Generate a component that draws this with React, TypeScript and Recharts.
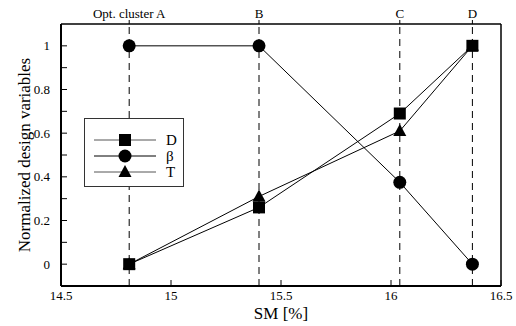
import React from "react";
import { LineChart, Line, XAxis, YAxis, ReferenceLine, Legend } from "recharts";

// optimal cluster positions on the SM axis
const clusterNames = ["Opt. cluster A", "B", "C", "D"];
const smValues = [14.81, 15.4, 16.04, 16.37];

// normalized design variables at each cluster
const dValues = [0, 0.26, 0.69, 1];
const betaValues = [1, 1, 0.375, 0];
const tValues = [0, 0.31, 0.61, 1];

const xTicks = [14.5, 15, 15.5, 16, 16.5];
const yTicks = [0, 0.1, 0.2, 0.3, 0.4, 0.5, 0.6, 0.7, 0.8, 0.9, 1];
const yLabelTicks = [0, 0.2, 0.4, 0.6, 0.8, 1];

const data = smValues.map((sm, i) => ({
   sm,
   D: dValues[i],
   beta: betaValues[i],
   T: tValues[i],
}));

const FONT = "Liberation Serif, Times New Roman, Times, DejaVu Serif, serif";
const Y_GAP = 11;
const X_GAP = 5;

const SquareDot = (props: any) => {
   const { cx, cy, index } = props;
   if (cx == null || cy == null) return <g key={index} />;
   return <rect key={index} x={cx - 6} y={cy - 6} width={12} height={12} fill="#000" />;
};

const CircleDot = (props: any) => {
   const { cx, cy, index } = props;
   if (cx == null || cy == null) return <g key={index} />;
   return <circle key={index} cx={cx} cy={cy} r={6.5} fill="#000" />;
};

const TriangleDot = (props: any) => {
   const { cx, cy, index } = props;
   if (cx == null || cy == null) return <g key={index} />;
   return (
      <polygon
         key={index}
         points={`${cx},${cy - 7} ${cx + 6.5},${cy + 5} ${cx - 6.5},${cy + 5}`}
         fill="#000"
      />
   );
};

const LeftTick = (props: any) => {
   const { x, y, payload } = props;
   const v = payload.value;
   const labelled = yLabelTicks.some((t) => Math.abs(t - v) < 1e-6);
   const ax = x + Y_GAP;
   return (
      <g>
         <line x1={ax} y1={y} x2={ax + 6} y2={y} stroke="#000" />
         {labelled && (
            <text x={x} y={y} dy="0.355em" textAnchor="end" style={{ fontSize: 13, fontFamily: FONT }} fill="#000">
               {String(Math.round(v * 10) / 10)}
            </text>
         )}
      </g>
   );
};

const BottomTick = (props: any) => {
   const { x, y, payload } = props;
   const ay = y - X_GAP;
   return (
      <g>
         <line x1={x} y1={ay} x2={x} y2={ay - 6} stroke="#000" />
         <text x={x} y={y} dy="0.71em" textAnchor="middle" style={{ fontSize: 13, fontFamily: FONT }} fill="#000">
            {String(payload.value)}
         </text>
      </g>
   );
};

const LegendBox = () => {
   const rows = [
      { name: "D", marker: "square", color: "#555" },
      { name: "β", marker: "circle", color: "#000" },
      { name: "T", marker: "triangle", color: "#555" },
   ];
   return (
      <div style={{ border: "1px solid #333", background: "#fff", width: 98, height: 67 }}>
         <svg width={98} height={67}>
            {rows.map((r, i) => {
               const cy = 21 + i * 16;
               const cx = 40;
               return (
                  <g key={r.name}>
                     <line x1={9} y1={cy} x2={71} y2={cy} stroke={r.color} />
                     {r.marker === "square" && <rect x={cx - 6} y={cy - 6} width={12} height={12} fill="#000" />}
                     {r.marker === "circle" && <circle cx={cx} cy={cy} r={6.5} fill="#000" />}
                     {r.marker === "triangle" && (
                        <polygon points={`${cx},${cy - 7} ${cx + 6.5},${cy + 5} ${cx - 6.5},${cy + 5}`} fill="#000" />
                     )}
                     <text x={81} y={cy} dy="0.355em" style={{ fontSize: 15, fontFamily: FONT }} fill="#000">
                        {r.name}
                     </text>
                  </g>
               );
            })}
         </svg>
      </div>
   );
};

const App = () => {
   return (
      <div style={{ position: "absolute", left: 0, top: 0, background: "#fff", fontFamily: FONT }}>
         <LineChart
            width={516}
            height={326}
            data={data}
            margin={{ top: 0, right: 0, left: 0, bottom: 0 }}
            style={{ fontFamily: FONT }}
         >
            <XAxis
               xAxisId="bottom"
               dataKey="sm"
               type="number"
               domain={[14.5, 16.5]}
               ticks={xTicks}
               interval={0}
               height={40}
               tickSize={0}
               tickMargin={X_GAP}
               tick={<BottomTick />}
               axisLine={{ stroke: "#000", strokeWidth: 2 }}
               label={{ value: "SM [%]", position: "insideBottom", offset: 7, fill: "#000", style: { fontSize: 17, fontFamily: FONT } }}
            />
            <XAxis
               xAxisId="top"
               orientation="top"
               dataKey="sm"
               type="number"
               domain={[14.5, 16.5]}
               ticks={smValues}
               interval={0}
               height={24}
               tickSize={4}
               tickMargin={2}
               tickLine={{ stroke: "#000" }}
               tickFormatter={(v: number) => clusterNames[smValues.indexOf(v)] ?? ""}
               tick={{ fill: "#000", style: { fontSize: 13, fontFamily: FONT } }}
               axisLine={{ stroke: "#000", strokeWidth: 1.5 }}
            />
            <YAxis
               yAxisId="left"
               type="number"
               domain={[-0.1, 1.1]}
               ticks={yTicks}
               interval={0}
               width={61}
               tickSize={0}
               tickMargin={Y_GAP}
               tick={<LeftTick />}
               axisLine={{ stroke: "#000", strokeWidth: 2 }}
               label={{
                  value: "Normalized design variables",
                  angle: -90,
                  position: "center",
                  dx: -7,
                  fill: "#000",
                  style: { fontSize: 17, fontFamily: FONT },
               }}
            />
            <YAxis
               yAxisId="right"
               orientation="right"
               type="number"
               domain={[-0.1, 1.1]}
               width={15}
               tick={false}
               tickLine={false}
               axisLine={{ stroke: "#000", strokeWidth: 1.5 }}
            />
            {smValues.map((v) => (
               <ReferenceLine
                  key={v}
                  x={v}
                  xAxisId="bottom"
                  yAxisId="left"
                  stroke="#000"
                  strokeDasharray="7 5"
               />
            ))}
            <Legend
               layout="horizontal"
               verticalAlign="middle"
               align="center"
               content={() => <LegendBox />}
               wrapperStyle={{ position: "absolute", left: 84, top: 118, width: 100, height: 69 }}
            />
            <Line
               xAxisId="bottom"
               yAxisId="left"
               dataKey="D"
               stroke="#000"
               strokeWidth={1}
               dot={SquareDot}
               activeDot={false}
               isAnimationActive={false}
            />
            <Line
               xAxisId="bottom"
               yAxisId="left"
               dataKey="beta"
               stroke="#000"
               strokeWidth={1}
               dot={CircleDot}
               activeDot={false}
               isAnimationActive={false}
            />
            <Line
               xAxisId="bottom"
               yAxisId="left"
               dataKey="T"
               stroke="#000"
               strokeWidth={1}
               dot={TriangleDot}
               activeDot={false}
               isAnimationActive={false}
            />
         </LineChart>
      </div>
   );
};

export default App;
